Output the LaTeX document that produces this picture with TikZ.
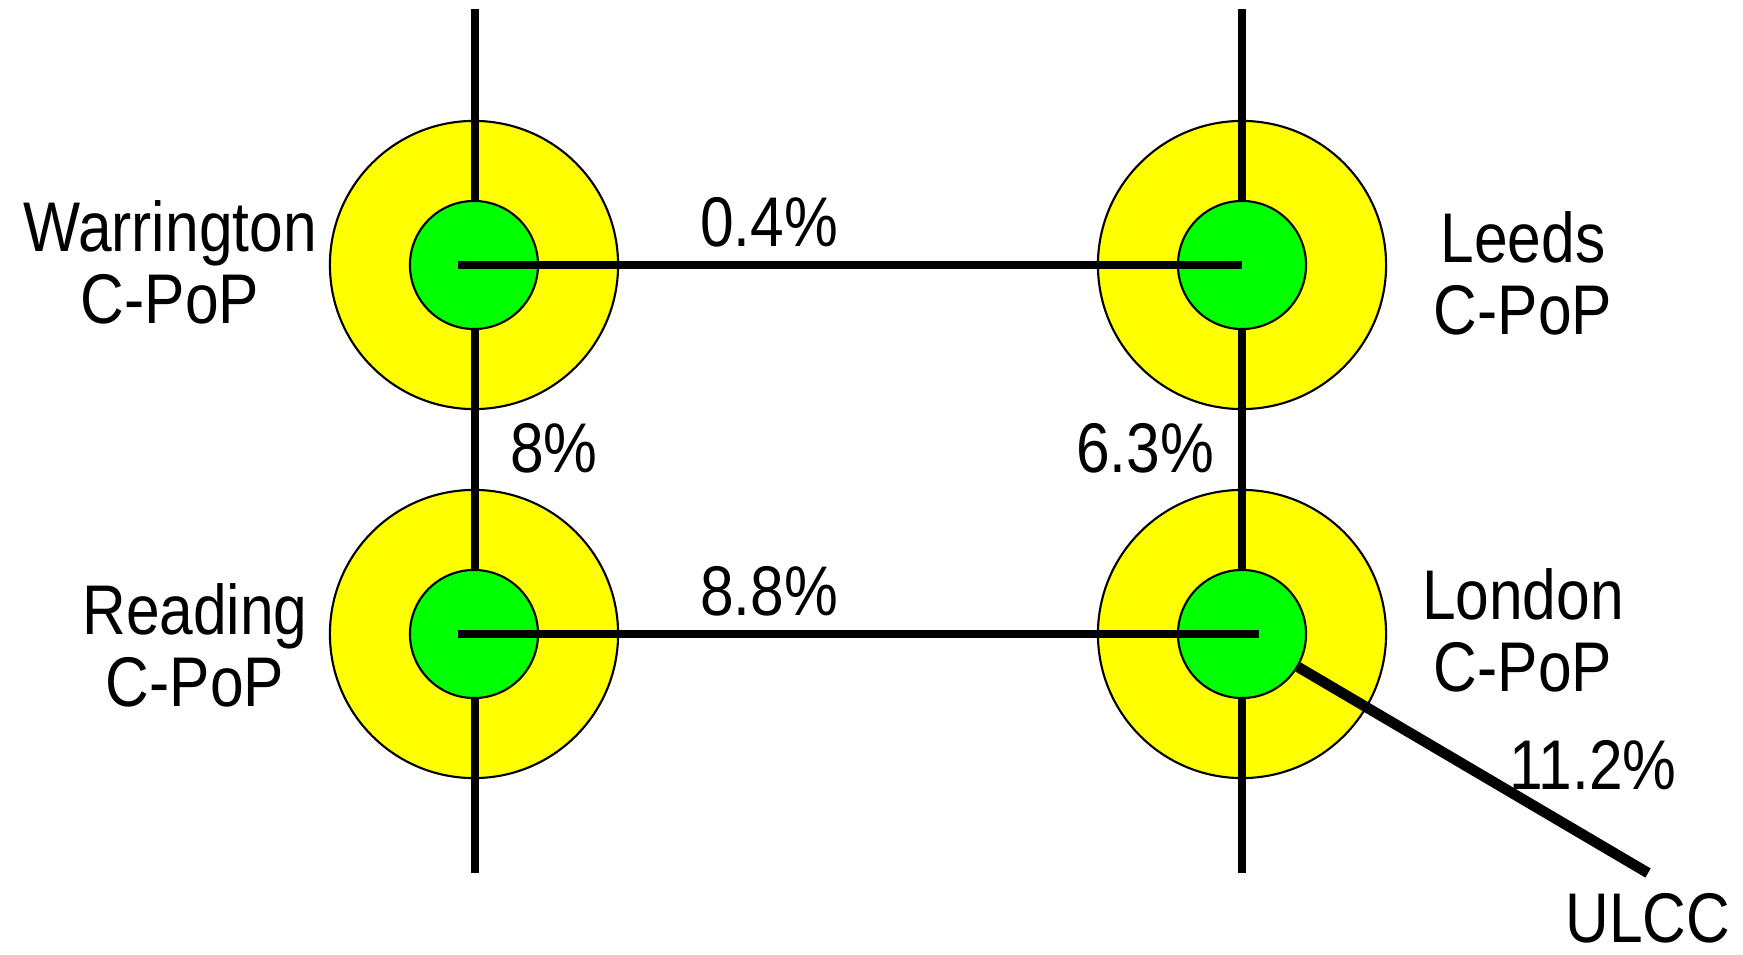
\documentclass[tikz,border=0pt]{standalone}
\usepackage{fontspec}
\setmainfont{Liberation Sans}[FakeStretch=0.86]
\usetikzlibrary{calc}

\definecolor{popyellow}{RGB}{255,255,0}
\definecolor{popgreen}{RGB}{0,255,0}

\tikzset{
  outer/.style={circle, draw=black, line width=0.6pt, fill=popyellow, minimum size=2.88cm, inner sep=0},
  inner/.style={circle, draw=black, line width=0.6pt, fill=popgreen, minimum size=1.28cm, inner sep=0},
  link/.style={line width=2.4pt},
  lbl/.style={align=center, font=\fontsize{20}{20.5}\selectfont, inner sep=0},
}

\begin{document}
\begin{tikzpicture}[x=0.01cm, y=-0.01cm]
      \useasboundingbox (0,0) rectangle (1743,955);

      % outer rings
      \node [outer] (war) at (474, 265) {};
      \node [outer] (lee) at (1242, 265) {};
      \node [outer] (rea) at (474, 634) {};
      \node [outer] (lon) at (1242, 634) {};

      % trunk lines
      \coordinate (wtop) at (475, 9);
      \coordinate (wbot) at (475, 873);
      \coordinate (ltop) at (1242, 9);
      \coordinate (lbot) at (1242, 873);
      \coordinate (ulcc) at (1648, 873);

      \draw [link] (wtop) -- (wbot);
      \draw [link] (ltop) -- (lbot);

      % inner cores
      \node [inner] (warc) at (war) {};
      \node [inner] (leec) at (lee) {};
      \node [inner] (reac) at (rea) {};
      \node [inner] (lonc) at (lon) {};

      \draw [link] ([xshift=-1.6mm]warc.center) -- (leec.center);
      \draw [link] ([xshift=-1.6mm]reac.center) -- ([xshift=1.7mm]lonc.center);
      \draw [line width=3pt] (lonc) -- (ulcc);

      % names
      \node [lbl] (warname) at (170, 262) {Warrington\\C-PoP};
      \node [lbl] (leename) at (1523, 273) {Leeds\\C-PoP};
      \node [lbl] (reaname) at (195, 645) {Reading\\C-PoP};
      \node [lbl] (lonname) at (1523, 630) {London\\C-PoP};
      \node [lbl] (ulccname) at (1648, 918) {ULCC};

      % loads
      \node [lbl] (wl) at (769, 222) {0.4\%};
      \node [lbl] (rl) at (769, 591) {8.8\%};
      \node [lbl] (wr) at (554, 448) {8\%};
      \node [lbl] (ll) at (1145, 448) {6.3\%};
      \node [lbl] (lu) at (1593, 765) {11.2\%};
\end{tikzpicture}
\end{document}
